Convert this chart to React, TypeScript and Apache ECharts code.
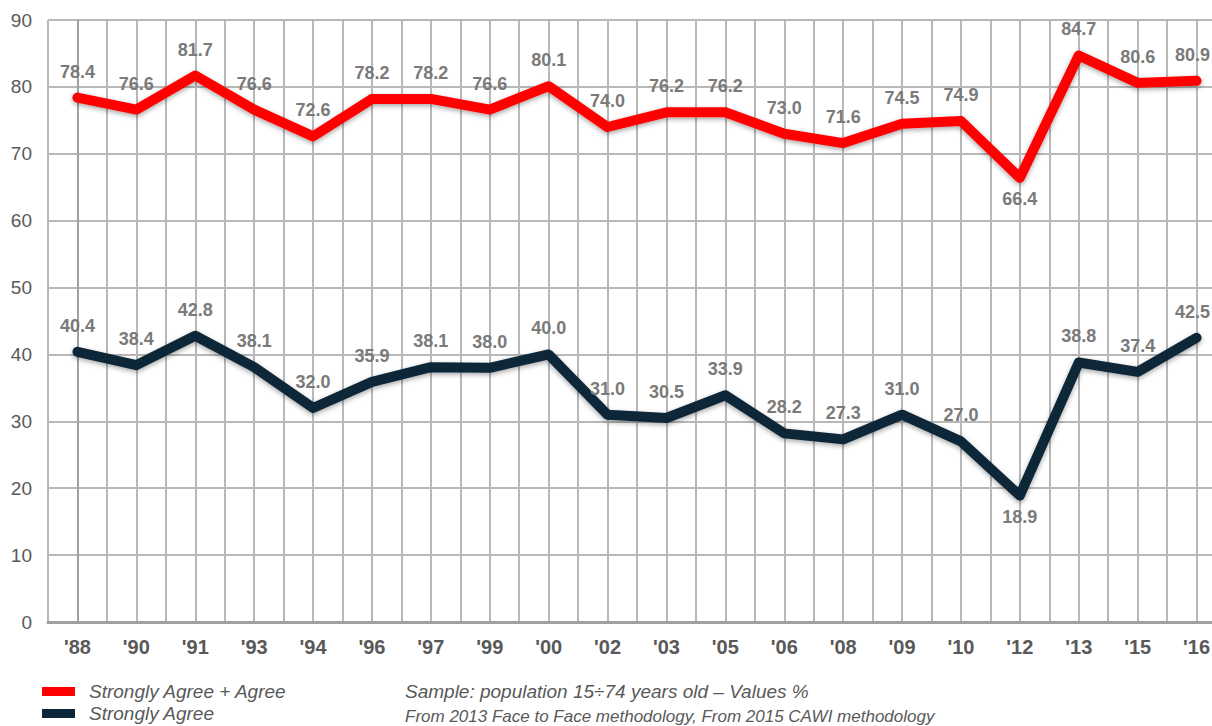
import React, { useEffect, useRef } from "react";
import * as echarts from "echarts";

const categories = ["'88", "'90", "'91", "'93", "'94", "'96", "'97", "'99", "'00", "'02", "'03", "'05", "'06", "'08", "'09", "'10", "'12", "'13", "'15", "'16"];
const agreeTotal = [78.4, 76.6, 81.7, 76.6, 72.6, 78.2, 78.2, 76.6, 80.1, 74.0, 76.2, 76.2, 73.0, 71.6, 74.5, 74.9, 66.4, 84.7, 80.6, 80.9];
const stronglyAgree = [40.4, 38.4, 42.8, 38.1, 32.0, 35.9, 38.1, 38.0, 40.0, 31.0, 30.5, 33.9, 28.2, 27.3, 31.0, 27.0, 18.9, 38.8, 37.4, 42.5];
const belowLabelIndex = [16];
const edgeLabelIndex = [19];
const seriesNames = ["Strongly Agree + Agree", "Strongly Agree"];
const yTicks = { min: 0, max: 90, interval: 10 };
const notes = [
  "Sample: population 15÷74 years old – Values %",
  "From 2013 Face to Face methodology, From 2015 CAWI methodology",
];

const FONT = "'Liberation Sans', Arial, sans-serif";

function makeData(values: number[]) {
  return values.map((v, i) => {
    if (belowLabelIndex.includes(i)) return { value: v, label: { position: "bottom", distance: 11 } };
    if (edgeLabelIndex.includes(i)) return { value: v, label: { offset: [-4, 0] } };
    return v;
  });
}

export default function App() {
  const ref = useRef<HTMLDivElement>(null);
  useEffect(() => {
    if (!ref.current) return;
    const chart = echarts.init(ref.current, null, { renderer: "svg" });
    const labelStyle = {
      show: true,
      position: "top",
      distance: 16,
      color: "#7a7a7a",
      fontFamily: FONT,
      fontWeight: "bold",
      fontSize: 18,
      formatter: (p: any) => Number(p.value).toFixed(1),
    };
    const lineShadow = {
      shadowColor: "rgba(0,0,0,0.35)",
      shadowBlur: 5,
      shadowOffsetY: 2,
    };
    chart.setOption({
      animation: false,
      backgroundColor: "#ffffff",
      grid: { left: 48, right: 0, top: 20, bottom: 104, containLabel: false },
      legend: {
        left: 42,
        top: 682,
        orient: "vertical",
        padding: 0,
        itemWidth: 33,
        itemHeight: 9,
        itemGap: 3,
        icon: "rect",
        data: seriesNames,
        textStyle: {
          fontFamily: FONT,
          fontStyle: "italic",
          fontSize: 19,
          color: "#595959",
          padding: [0, 0, 0, 9],
        },
      },
      xAxis: [
        {
          type: "category",
          data: categories,
          boundaryGap: true,
          axisLine: { show: true, lineStyle: { color: "#a0a0a0", width: 3 } },
          axisTick: { show: false },
          axisLabel: {
            color: "#595959",
            fontFamily: FONT,
            fontWeight: "bold",
            fontSize: 20,
            margin: 15,
            interval: 0,
          },
          splitLine: { show: false },
        },
        {
          type: "value",
          min: -0.5,
          max: 19.5,
          interval: 0.5,
          position: "bottom",
          axisLine: { show: false },
          axisTick: { show: false },
          axisLabel: { show: false },
          splitLine: { show: true, lineStyle: { color: "#b8b8b8", width: 2 } },
        },
      ],
      yAxis: {
        type: "value",
        min: yTicks.min,
        max: yTicks.max,
        interval: yTicks.interval,
        axisLine: { show: true, lineStyle: { color: "#a0a0a0", width: 2 } },
        axisTick: { show: false },
        axisLabel: {
          color: "#595959",
          fontFamily: FONT,
          fontSize: 19,
          margin: 16,
        },
        splitLine: { show: true, lineStyle: { color: "#b8b8b8", width: 2 } },
      },
      series: [
        {
          name: seriesNames[0],
          type: "line",
          data: makeData(agreeTotal),
          xAxisIndex: 0,
          symbol: "circle",
          symbolSize: 2,
          itemStyle: { color: "#ff0000" },
          lineStyle: { color: "#ff0000", width: 10, join: "round", cap: "round", ...lineShadow },
          label: labelStyle,
          z: 3,
        },
        {
          name: seriesNames[1],
          type: "line",
          data: makeData(stronglyAgree),
          xAxisIndex: 0,
          symbol: "circle",
          symbolSize: 2,
          itemStyle: { color: "#0b2638" },
          lineStyle: { color: "#0b2638", width: 10, join: "round", cap: "round", ...lineShadow },
          label: labelStyle,
          z: 3,
        },
      ],
      graphic: [
        {
          type: "text",
          left: 405,
          top: 682,
          style: {
            text: notes[0],
            font: `italic 19px ${FONT}`,
            fill: "#595959",
          },
        },
        {
          type: "text",
          left: 405,
          top: 708,
          style: {
            text: notes[1],
            font: `italic 17px ${FONT}`,
            fill: "#595959",
          },
        },
      ],
    });
    return () => chart.dispose();
  }, []);
  return (
    <div style={{ position: "absolute", left: 0, top: 0, width: 1212, height: 726, overflow: "hidden" }}>
      <div ref={ref} style={{ width: 1226, height: 726 }} />
    </div>
  );
}
